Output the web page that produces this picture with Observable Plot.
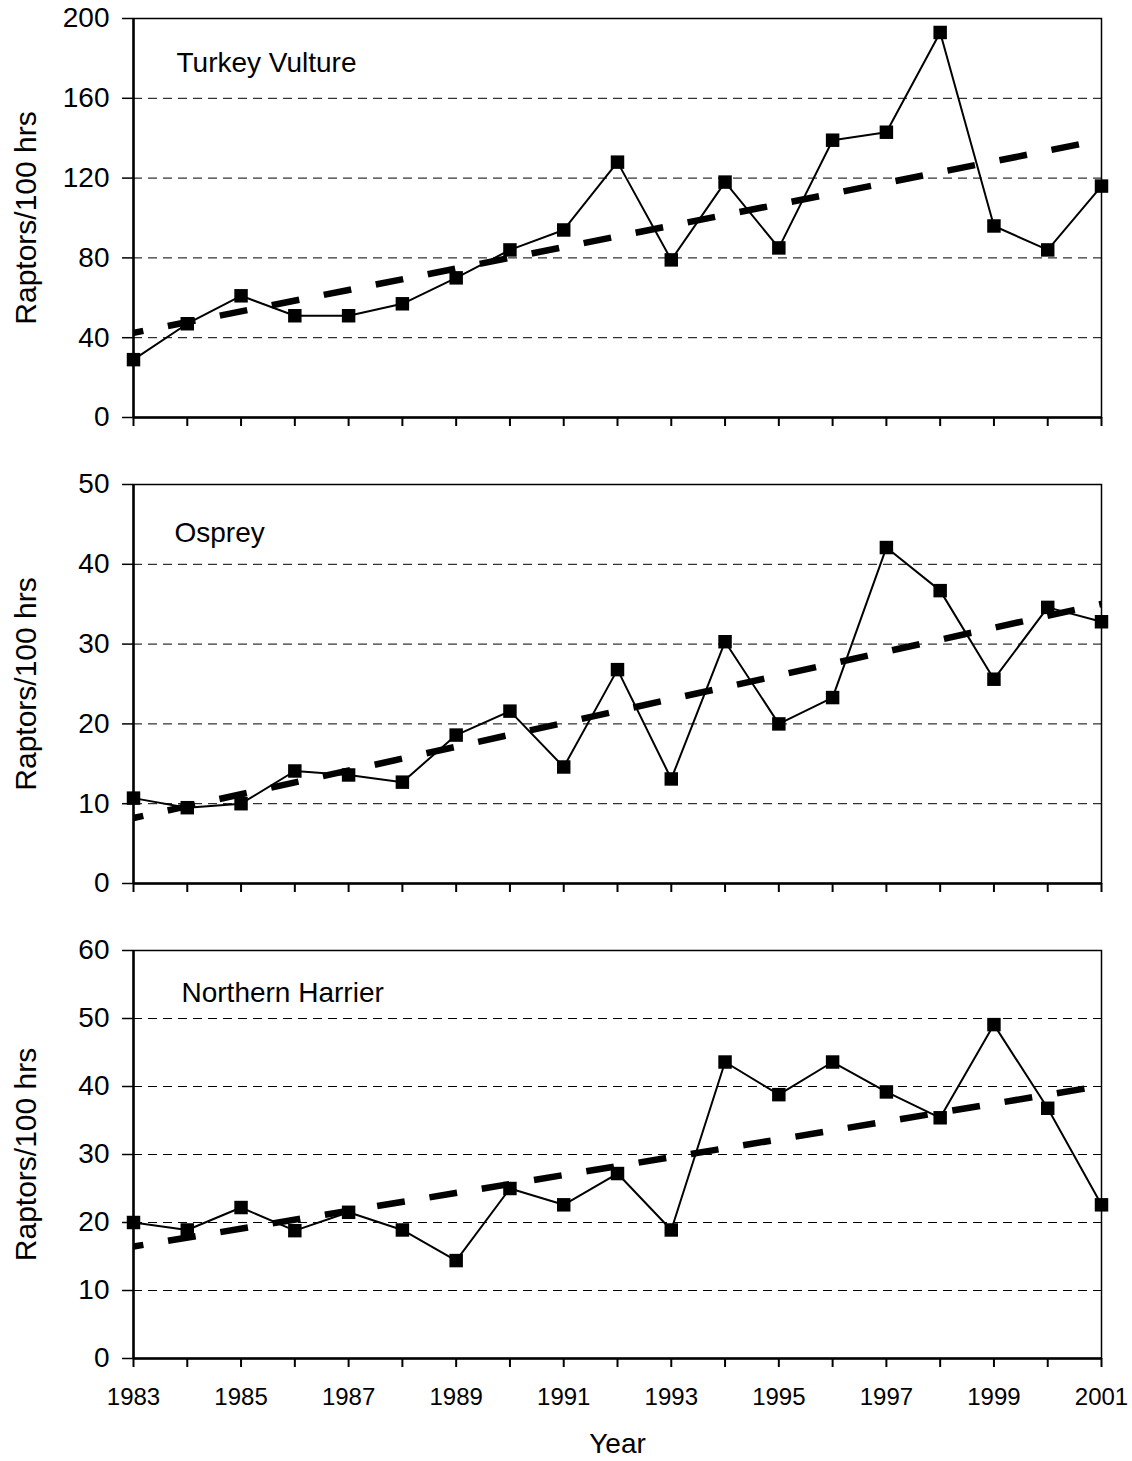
<!DOCTYPE html>
<html>
<head>
<meta charset="utf-8">
<script src="https://cdn.jsdelivr.net/npm/d3@7"></script>
<script src="https://cdn.jsdelivr.net/npm/@observablehq/plot@0.6"></script>
<style>
  body { margin: 0; background: #fff; }
  #chart { position: relative; width: 1132px; height: 1461px; font-family: "Liberation Sans", Arial, sans-serif; }
  #chart svg { position: absolute; left: 0; display: block; }
</style>
</head>
<body>
<div id="chart"></div>
<script>
// ---- Data ----
const years = [1983, 1984, 1985, 1986, 1987, 1988, 1989, 1990, 1991, 1992, 1993, 1994, 1995, 1996, 1997, 1998, 1999, 2000, 2001];
const turkeyVulture = [29, 47, 61, 51, 51, 57, 70, 84, 94, 128, 79, 118, 85, 139, 143, 193, 96, 84, 116];
const osprey = [10.7, 9.5, 10.0, 14.1, 13.6, 12.7, 18.6, 21.6, 14.6, 26.8, 13.1, 30.3, 20.0, 23.3, 42.1, 36.7, 25.6, 34.6, 32.8];
const northernHarrier = [20.0, 18.9, 22.2, 18.8, 21.5, 18.9, 14.4, 25.0, 22.6, 27.2, 18.9, 43.6, 38.8, 43.6, 39.2, 35.4, 49.1, 36.8, 22.6];
const turkeyVultureTicks = [0, 40, 80, 120, 160, 200];
const ospreyTicks = [0, 10, 20, 30, 40, 50];
const northernHarrierTicks = [0, 10, 20, 30, 40, 50, 60];
const speciesNames = ["Turkey Vulture", "Osprey", "Northern Harrier"];
const yTitle = "Raptors/100 hrs";
const xTitle = "Year";

const FONT = '"Liberation Sans", Arial, sans-serif';

// layout per panel (pixels)
const layout = [
  { values: turkeyVulture, ticks: turkeyVultureTicks, name: speciesNames[0], svgTop: 0,   svgHeight: 450, top: 18,  bottom: 417,  nameDx: 43, nameDy: 53, showYears: false },
  { values: osprey,        ticks: ospreyTicks,        name: speciesNames[1], svgTop: 450, svgHeight: 466, top: 484, bottom: 883,  nameDx: 41, nameDy: 57, showYears: false },
  { values: northernHarrier, ticks: northernHarrierTicks, name: speciesNames[2], svgTop: 916, svgHeight: 545, top: 950, bottom: 1358, nameDx: 48, nameDy: 51, showYears: true }
];

function makePanel(p) {
  const data = years.map((year, i) => ({ year, value: p.values[i] }));
  const marginTop = p.top - p.svgTop;
  const marginBottom = p.svgTop + p.svgHeight - p.bottom;
  const marks = [
    Plot.ruleY(p.ticks.slice(1, -1), { stroke: "black", strokeWidth: 1, strokeDasharray: "9,6" }),
    Plot.frame({ stroke: "black", strokeWidth: 1.5 }),
    Plot.axisY({ ticks: p.ticks, tickSize: 11, tickPadding: 13, fontSize: 28, label: null, tickFormat: d => String(d), strokeWidth: 1.5 }),
    Plot.axisX({ ticks: years, tickSize: 9, tickPadding: 20, fontSize: 24, label: null,
                 tickFormat: d => (p.showYears && (d - 1983) % 2 === 0) ? String(d) : "", strokeWidth: 2 }),
    Plot.ruleX([1983], { stroke: "black", strokeWidth: 2.5 }),
    Plot.ruleY([0], { stroke: "black", strokeWidth: 2.5 }),
    Plot.line(data, { x: "year", y: "value", stroke: "black", strokeWidth: 2 }),
    Plot.dot(data, { x: "year", y: "value", symbol: "square", r: 7.6, fill: "black", stroke: "none" }),
    Plot.linearRegressionY(data, { x: "year", y: "value", ci: 0, stroke: "black", strokeWidth: 6.5,
                                   strokeLinecap: "butt", strokeDasharray: "28,25", strokeDashoffset: 18 }),
    Plot.text([p.name], { frameAnchor: "top-left", dx: p.nameDx, dy: p.nameDy, fontSize: 28,
                          textAnchor: "start", lineAnchor: "bottom", fill: "black" }),
    Plot.text([yTitle], { frameAnchor: "left", dx: -98, rotate: -90, fontSize: 30,
                          textAnchor: "middle", lineAnchor: "bottom", fill: "black" })
  ];
  if (p.showYears) {
    marks.push(Plot.text([xTitle], { frameAnchor: "bottom", dy: 94, fontSize: 28,
                                     textAnchor: "middle", lineAnchor: "bottom", fill: "black" }));
  }
  const svg = Plot.plot({
    width: 1132,
    height: p.svgHeight,
    marginLeft: 133,
    marginRight: 31,
    marginTop,
    marginBottom,
    style: { fontFamily: FONT, background: "transparent", overflow: "visible", color: "black" },
    x: { domain: [1983, 2001] },
    y: { domain: [0, p.ticks[p.ticks.length - 1]] },
    marks
  });
  svg.style.top = p.svgTop + "px";
  return svg;
}

const chart = document.getElementById("chart");
layout.forEach(p => chart.appendChild(makePanel(p)));
</script>
</body>
</html>
